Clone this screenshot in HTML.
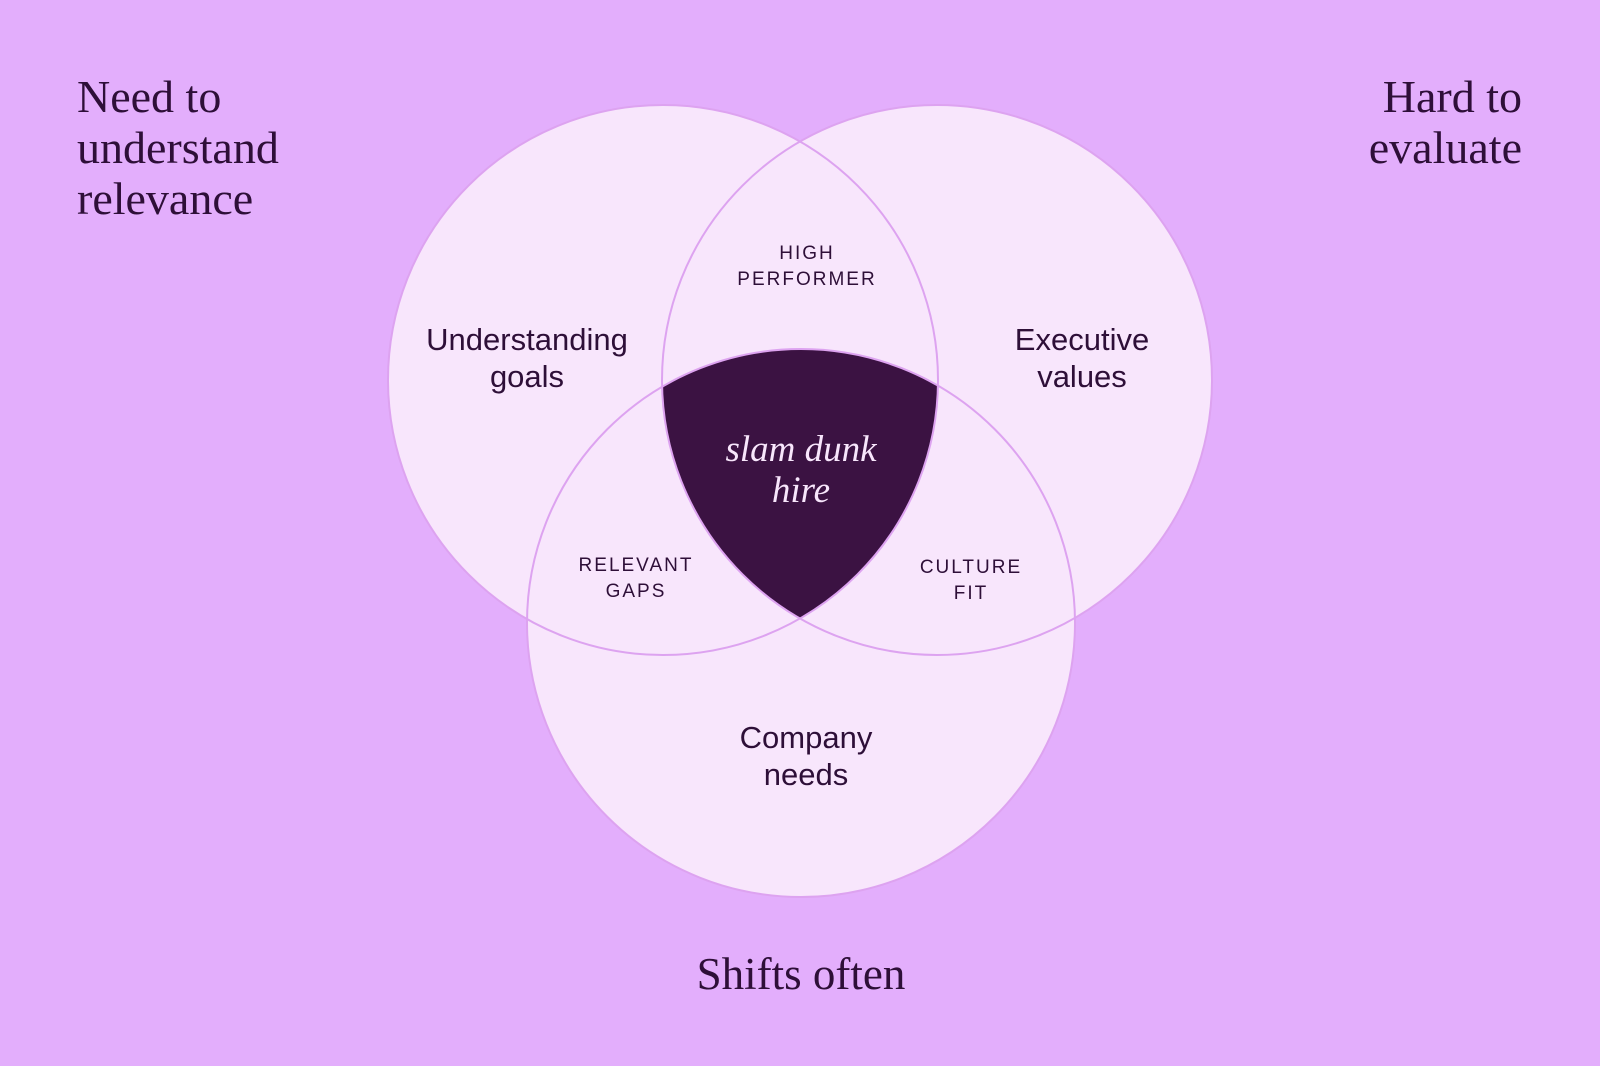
<!DOCTYPE html>
<html><head><meta charset="utf-8"><style>
html,body{margin:0;padding:0;background:#e3aefc;}
svg{display:block}
</style></head><body>
<svg width="1600" height="1066" viewBox="0 0 1600 1066" xmlns="http://www.w3.org/2000/svg">
<defs>
<clipPath id="c1"><circle cx="663" cy="380" r="275"/></clipPath>
<clipPath id="c2"><circle cx="937" cy="380" r="275"/></clipPath>
</defs>
<rect width="1600" height="1066" fill="#e3aefc"/>
<g fill="#f8e6fc">
<circle cx="663" cy="380" r="275"/>
<circle cx="937" cy="380" r="275"/>
<circle cx="801" cy="623" r="274"/>
</g>
<g clip-path="url(#c1)"><g clip-path="url(#c2)">
<circle cx="801" cy="623" r="274" fill="#3b1242"/>
</g></g>
<g fill="none" stroke="#dda3f0" stroke-width="2">
<circle cx="663" cy="380" r="275"/>
<circle cx="937" cy="380" r="275"/>
<circle cx="801" cy="623" r="274"/>
</g>
<g font-family="'Liberation Serif',serif" font-size="46" fill="#2e0f38">
<text x="77" y="112">Need to</text>
<text x="77" y="163">understand</text>
<text x="77" y="214">relevance</text>
<text x="1522" y="112" text-anchor="end">Hard to</text>
<text x="1522" y="163" text-anchor="end">evaluate</text>
</g>
<text x="801" y="989" text-anchor="middle" font-family="'Liberation Serif',serif" font-size="45" fill="#2e0f38">Shifts often</text>
<g font-family="'Liberation Serif',serif" font-style="italic" font-size="37" fill="#f8e6fc" text-anchor="middle">
<text x="801" y="461">slam dunk</text>
<text x="801" y="502">hire</text>
</g>
<g font-family="'Liberation Sans',sans-serif" font-size="31" fill="#2e0f38" text-anchor="middle">
<text x="527" y="350">Understanding</text>
<text x="527" y="387">goals</text>
<text x="1082" y="350">Executive</text>
<text x="1082" y="387">values</text>
<text x="806" y="748">Company</text>
<text x="806" y="785">needs</text>
</g>
<g font-family="'Liberation Sans',sans-serif" font-size="19" fill="#2e0f38" text-anchor="middle" letter-spacing="2">
<text x="807" y="259">HIGH</text>
<text x="807" y="285">PERFORMER</text>
<text x="636" y="571">RELEVANT</text>
<text x="636" y="597">GAPS</text>
<text x="971" y="573">CULTURE</text>
<text x="971" y="599">FIT</text>
</g>
</svg>
</body></html>
